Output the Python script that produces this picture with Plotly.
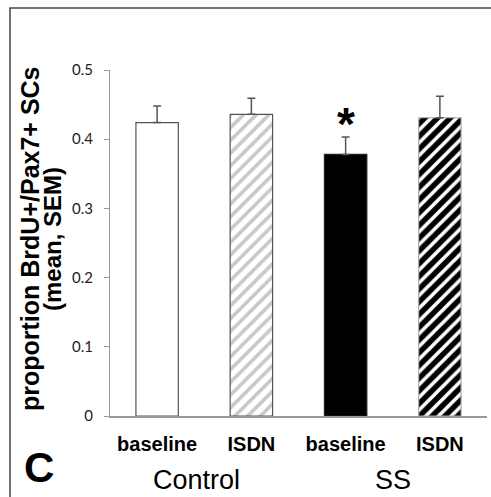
import plotly.graph_objects as go

# ---- data ----
bar_labels = ["baseline", "ISDN", "baseline", "ISDN"]
groups = ["Control", "SS"]
means = [0.424, 0.436, 0.378, 0.431]
sems = [0.024, 0.023, 0.025, 0.031]
y_ticks = [0, 0.1, 0.2, 0.3, 0.4, 0.5]
y_tick_text = ["0", "0.1", "0.2", "0.3", "0.4", "0.5"]

x_pos = list(range(len(bar_labels)))

# ---- styles ----
fill_colors = ["white", "white", "black", "black"]
line_colors = ["#555555", "#555555", "#222222", "#aaaaaa"]
pattern_shapes = ["", "/", "", "/"]
pattern_fg = ["#c8c8c8", "#c8c8c8", "white", "white"]

fig = go.Figure()
for i in range(len(bar_labels)):
    fig.add_trace(go.Bar(
        x=[x_pos[i]], y=[means[i]],
        width=0.45,
        marker=dict(
            color=fill_colors[i],
            line=dict(color=line_colors[i], width=1.2),
            pattern=dict(shape=pattern_shapes[i], fgcolor=pattern_fg[i], fgopacity=1,
                         bgcolor=fill_colors[i], size=9, solidity=0.4, fillmode="replace"),
        ),
        error_y=dict(type="data", array=[sems[i]], arrayminus=[0], symmetric=False,
                     color="#555555", thickness=1.5, width=4),
        showlegend=False,
    ))

W, H = 491, 497
ml, mr, mt, mb = 110, 4, 70, 81
pw, ph = W - ml - mr, H - mt - mb

def px(x):
    return (x - ml) / pw

def py(y):
    return (H - mb - y) / ph

fig.update_layout(
    width=W, height=H,
    margin=dict(l=ml, r=mr, t=mt, b=mb, pad=0),
    paper_bgcolor="white", plot_bgcolor="white",
    barmode="overlay",
    font=dict(family="Liberation Sans, Arial, sans-serif", color="black"),
    xaxis=dict(
        range=[-0.5, len(bar_labels) - 0.5],
        tickmode="array", tickvals=x_pos, ticktext=bar_labels,
        tickfont=dict(size=20, family="Liberation Sans, Arial, sans-serif", weight="bold"),
        showline=True, linecolor="#999999", linewidth=1.5,
        ticks="", showgrid=False, zeroline=False,
        ticklabelstandoff=9,
    ),
    yaxis=dict(
        range=[0, 0.5],
        tickmode="array", tickvals=y_ticks, ticktext=y_tick_text,
        tickfont=dict(size=15, family="Lato, Liberation Sans, sans-serif", color="#222222"),
        showline=True, linecolor="#999999", linewidth=1.2,
        ticks="outside", ticklen=5, tickcolor="#999999", tickwidth=1.2,
        showgrid=False, zeroline=False,
        ticklabelstandoff=8,
    ),
)

annotations = []
# y-axis title (two lines)
annotations.append(dict(text="<b>proportion BrdU+/Pax7+ SCs</b>", textangle=-90,
                        xref="paper", yref="paper", x=px(30), y=py(239),
                        xanchor="center", yanchor="middle", showarrow=False,
                        font=dict(size=25, family="Liberation Sans, Arial, sans-serif")))
annotations.append(dict(text="<b>(mean, SEM)</b>", textangle=-90,
                        xref="paper", yref="paper", x=px(52), y=py(239),
                        xanchor="center", yanchor="middle", showarrow=False,
                        font=dict(size=24, family="Liberation Sans, Arial, sans-serif")))
# group labels
group_x = [0.42, 2.5]
for g, gx in zip(groups, group_x):
    annotations.append(dict(text=g, xref="x", yref="paper", x=gx, y=py(480),
                            xanchor="center", yanchor="middle", showarrow=False,
                            font=dict(size=27, family="Liberation Sans, Arial, sans-serif")))
# significance star
annotations.append(dict(text="<b>*</b>", xref="x", yref="paper", x=2, y=py(124),
                        xanchor="center", yanchor="middle", showarrow=False,
                        font=dict(size=46, family="Liberation Sans, Arial, sans-serif")))
# panel letter
annotations.append(dict(text="<b>C</b>", xref="paper", yref="paper", x=px(39), y=py(467),
                        xanchor="center", yanchor="middle", showarrow=False,
                        font=dict(size=42, family="Liberation Sans, Arial, sans-serif")))
fig.update_layout(annotations=annotations)

# outer frame (right/bottom edges beyond the image)
fig.add_shape(type="rect", xref="paper", yref="paper",
              x0=px(10), x1=px(560), y0=py(8), y1=py(560),
              line=dict(color="#444444", width=1.5), fillcolor="rgba(0,0,0,0)", layer="above")

fig.write_html("out.html", config={"displayModeBar": False},
               post_script="document.body.style.margin='0';document.body.style.padding='0';")
